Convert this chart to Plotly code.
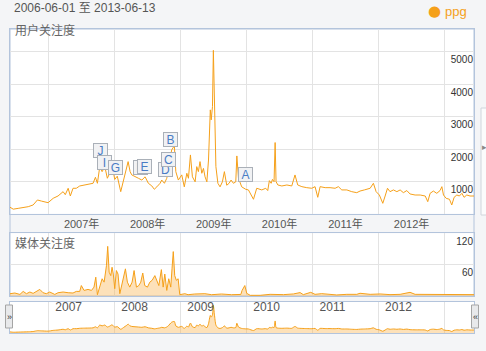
import plotly.graph_objects as go

# ---------------- data ----------------
x_start, x_end = "2006-06-01", "2013-06-13"

user_dates = [
    "2006-06-01", "2006-06-19", "2006-07-16", "2006-09-10", "2006-10-07", "2006-10-31", "2006-11-22", "2006-12-29",
    "2007-01-26", "2007-02-22", "2007-03-22", "2007-04-03", "2007-04-19", "2007-05-01", "2007-05-16", "2007-06-03",
    "2007-06-22", "2007-07-20", "2007-08-17", "2007-09-04", "2007-09-17", "2007-09-28", "2007-10-11", "2007-10-24",
    "2007-11-08", "2007-11-22", "2007-12-05", "2007-12-18", "2008-01-02", "2008-01-16", "2008-02-04", "2008-02-22",
    "2008-03-06", "2008-03-16", "2008-03-27", "2008-04-05", "2008-05-12", "2008-05-31", "2008-06-18", "2008-07-06",
    "2008-07-25", "2008-08-08", "2008-08-22", "2008-09-09", "2008-09-18", "2008-10-03", "2008-10-16", "2008-10-24",
    "2008-11-12", "2008-11-27", "2008-12-05", "2008-12-19", "2009-01-07", "2009-01-21", "2009-02-04", "2009-02-13",
    "2009-02-24", "2009-03-07", "2009-03-22", "2009-03-31", "2009-04-09", "2009-04-18", "2009-04-28", "2009-05-07",
    "2009-05-16", "2009-05-26", "2009-06-04", "2009-06-14", "2009-06-19", "2009-06-26", "2009-07-01", "2009-07-07",
    "2009-07-15", "2009-07-26", "2009-08-07", "2009-08-20", "2009-08-31", "2009-09-13", "2009-09-26", "2009-10-07",
    "2009-10-20", "2009-11-02", "2009-11-08", "2009-11-17", "2009-12-05", "2009-12-27", "2010-01-11", "2010-02-08",
    "2010-02-26", "2010-03-26", "2010-04-17", "2010-04-28", "2010-05-07", "2010-05-17", "2010-05-24", "2010-06-02",
    "2010-06-08", "2010-06-13", "2010-06-23", "2010-07-15", "2010-08-12", "2010-09-08", "2010-09-26", "2010-10-11",
    "2010-11-03", "2010-11-30", "2010-12-28", "2011-01-15", "2011-01-30", "2011-02-12", "2011-03-12", "2011-04-08",
    "2011-05-06", "2011-05-24", "2011-06-12", "2011-07-10", "2011-08-06", "2011-09-03", "2011-09-21", "2011-10-15",
    "2011-11-16", "2011-12-04", "2011-12-19", "2012-01-06", "2012-01-25", "2012-02-07", "2012-02-20", "2012-03-05",
    "2012-03-24", "2012-04-12", "2012-04-30", "2012-05-18", "2012-06-06", "2012-06-24", "2012-07-22", "2012-08-19",
    "2012-09-16", "2012-09-30", "2012-10-13", "2012-10-31", "2012-11-19", "2012-12-07", "2012-12-17", "2012-12-26",
    "2013-01-10", "2013-01-28", "2013-02-10", "2013-02-23", "2013-03-10", "2013-03-24", "2013-04-07", "2013-04-19",
    "2013-05-04", "2013-05-22", "2013-06-13",
]
user_vals = [
    200, 140, 165, 217, 270, 424, 390, 340,
    476, 548, 681, 588, 786, 548, 786, 786,
    857, 888, 908, 940, 1127, 940, 1455, 1300,
    1455, 1095, 1250, 1500, 1060, 1160, 681, 1060,
    1350, 1610, 1300, 1200, 1095, 1040, 1140, 940,
    860, 755, 830, 940, 1040, 940, 1095, 1300,
    1970, 2100, 1300, 1040, 1200, 830, 1250, 1095,
    1817, 1140, 985, 1455, 1300, 1610, 1250, 1400,
    1140, 985, 1660, 3210, 2900, 3310, 5050, 3310,
    1455, 940, 830, 985, 1300, 880, 940, 1040,
    940, 985, 1786, 1095, 830, 755, 735, 446,
    786, 735, 786, 715, 1022, 940, 1060, 990,
    2200, 990, 888, 857, 888, 857, 1198, 888,
    836, 805, 786, 836, 507, 836, 805, 805,
    786, 836, 735, 735, 681, 650, 700, 735,
    786, 940, 681, 578, 321, 547, 786, 681,
    735, 681, 735, 650, 715, 610, 578, 578,
    547, 372, 630, 700, 630, 715, 836, 578,
    475, 446, 270, 507, 578, 547, 630, 507,
    578, 547, 547,
]

media_dates = [
    "2006-06-01", "2006-06-28", "2006-07-26", "2006-08-13", "2006-08-31", "2006-09-19", "2006-10-07", "2006-10-25",
    "2006-11-13", "2006-12-01", "2006-12-19", "2007-01-07", "2007-02-04", "2007-02-22", "2007-03-22", "2007-04-19",
    "2007-05-16", "2007-06-03", "2007-06-22", "2007-07-01", "2007-07-16", "2007-08-07", "2007-08-26", "2007-09-09",
    "2007-09-19", "2007-09-28", "2007-10-11", "2007-10-24", "2007-11-04", "2007-11-17", "2007-11-24", "2007-12-02",
    "2007-12-11", "2007-12-18", "2007-12-25", "2008-01-02", "2008-01-11", "2008-01-20", "2008-01-30", "2008-02-08",
    "2008-02-17", "2008-03-01", "2008-03-12", "2008-03-25", "2008-04-07", "2008-04-18", "2008-05-01", "2008-05-14",
    "2008-05-25", "2008-06-05", "2008-06-16", "2008-07-01", "2008-07-14", "2008-07-27", "2008-08-11", "2008-08-20",
    "2008-09-02", "2008-09-16", "2008-09-26", "2008-10-05", "2008-10-16", "2008-10-27", "2008-11-07", "2008-11-14",
    "2008-11-21", "2008-11-29", "2008-12-08", "2008-12-18", "2008-12-27", "2009-01-24", "2009-02-11", "2009-03-20",
    "2009-05-15", "2009-06-21", "2009-08-15", "2009-10-09", "2009-11-30", "2009-12-07", "2009-12-22", "2010-01-02",
    "2010-01-21", "2010-03-17", "2010-05-11", "2010-07-24", "2010-09-17", "2010-10-24", "2010-11-11", "2010-12-22",
    "2011-01-15", "2011-02-21", "2011-03-30", "2011-05-15", "2011-07-10", "2011-09-03", "2011-09-21", "2011-11-16",
    "2012-01-10", "2012-03-05", "2012-04-30", "2012-06-24", "2012-07-22", "2012-08-28", "2012-10-13", "2012-11-19",
    "2013-01-13", "2013-03-10", "2013-05-04", "2013-06-13",
]
media_vals = [
    4.4, 5.7, 3, 8.8, 4.4, 7.6, 5, 8.8,
    12.6, 6.3, 4.4, 7.6, 3, 6.3, 7.6, 6.3,
    5.7, 8.8, 8.8, 20, 10.7, 12.6, 10.7, 17,
    36, 2.5, 20, 33, 26.5, 58, 95, 45.5,
    39, 55, 42, 14, 48.7, 42, 4.4, 20,
    33, 52, 26.5, 17, 26.5, 48.7, 17, 20,
    26.5, 44, 20, 17, 26.5, 30, 39, 30,
    20, 50.5, 17, 42, 10.7, 33, 17, 52,
    85, 39, 30, 33, 2.5, 4.4, 2.5, 3.8,
    4.4, 2.5, 3.8, 2.5, 3, 10.7, 20, 5,
    1.3, 1.3, 3.2, 2.6, 3.9, 6.5, 2.6, 7,
    3.2, 4.5, 3.9, 2, 3.2, 3.2, 5.2, 3.2,
    3.9, 2.6, 3.2, 7, 3.2, 3.2, 2, 3.2,
    2.6, 2.6, 2.6, 2.6,
]

event_letters = ["J", "I", "G", "H", "E", "D", "C", "B", "A"]
event_dates = ["2007-10-13", "2007-11-04", "2008-01-04", "2008-05-21", "2008-06-15",
               "2008-10-09", "2008-10-23", "2008-11-04", "2009-12-24"]
event_vals = [1941, 1585, 1415, 1415, 1446, 1368, 1663, 2297, 1198]

user_ticks = [1000, 2000, 3000, 4000, 5000]
media_ticks = [60, 120]
user_range = [0, 5710]
media_range = [0, 120]

title_text = "2006-06-01 至 2013-06-13"
series_name = "ppg"
panel1_label = "用户关注度"
panel2_label = "媒体关注度"

# ---------------- styling ----------------
W, H = 486, 351
ML, MR, MT, MB = 10, 12, 29, 18
PW, PH = W - ML - MR, H - MT - MB


def px_x(p):
    return (p - ML) / PW


def px_y(p):
    return (H - MB - p) / PH


ORANGE = "#f5a01a"
FILL = "rgba(250,180,80,0.40)"
GRID = "#e3e3e3"
FRAME = "#b3c4dc"
FONT = "Liberation Sans, Noto Sans CJK SC, sans-serif"

d1 = [px_y(213.7), 1.0]
d2 = [px_y(296.0), px_y(233.3)]
d3 = [0.0, px_y(301.7)]

fig = go.Figure()
fig.add_trace(go.Scatter(x=user_dates, y=user_vals, mode="lines",
                         line=dict(color=ORANGE, width=1), xaxis="x", yaxis="y"))
fig.add_trace(go.Scatter(x=media_dates, y=media_vals, mode="lines", fill="tozeroy",
                         fillcolor=FILL, line=dict(color=ORANGE, width=1),
                         xaxis="x2", yaxis="y2"))
fig.add_trace(go.Scatter(x=user_dates, y=user_vals, mode="lines", fill="tozeroy",
                         fillcolor=FILL, line=dict(color=ORANGE, width=1, shape="spline", smoothing=0.6),
                         xaxis="x3", yaxis="y3"))

xcommon = dict(type="date", range=[x_start, x_end], showgrid=True, gridcolor=GRID, gridwidth=1,
               ticks="", zeroline=False, showline=True, linecolor=FRAME, mirror=True,
               dtick="M12", tick0="2006-01-01")
ycommon = dict(showgrid=True, gridcolor=GRID, zeroline=False, showline=True, linecolor=FRAME,
               mirror=True, ticks="", side="right", ticklabelposition="inside",
               tickfont=dict(family=FONT, size=10, color="#333"), ticklabelshift=8)

fig.update_layout(
    width=W, height=H,
    margin=dict(l=ML, r=MR, t=MT, b=MB, pad=0),
    paper_bgcolor="#f4f5f7", plot_bgcolor="#ffffff",
    showlegend=False, hovermode=False,
    font=dict(family=FONT, color="#555"),
    xaxis=dict(xcommon, anchor="y", domain=[0, 1], ticklabelmode="period", tickformat="%Y年",
               tickfont=dict(family=FONT, size=11, color="#555")),
    xaxis2=dict(xcommon, anchor="y2", domain=[0, 1], matches="x", showticklabels=False),
    xaxis3=dict(xcommon, anchor="y3", domain=[0, 1], matches="x", side="top",
                ticklabelposition="inside", tickformat="%Y", ticklabelshift=20,
                tickfont=dict(family=FONT, size=12, color="#555")),
    yaxis=dict(ycommon, anchor="x", domain=d1, range=user_range, tickvals=user_ticks),
    yaxis2=dict(ycommon, anchor="x2", domain=d2, range=media_range, tickvals=media_ticks),
    yaxis3=dict(anchor="x3", domain=d3, range=user_range, showgrid=False, zeroline=False,
                showticklabels=False, showline=True, linecolor=FRAME, mirror=True, ticks=""),
)

# event markers
for letter, d, v in zip(event_letters, event_dates, event_vals):
    fig.add_annotation(x=d, y=v, xref="x", yref="y", text=letter, showarrow=False,
                       xanchor="center", yanchor="middle", width=11, height=11,
                       bgcolor="#f1f2f4", bordercolor="#aab0b8", borderwidth=1, borderpad=1,
                       font=dict(family=FONT, size=12, color="#4a7cc4"))

# texts
fig.add_annotation(x=px_x(12), y=px_y(8), xref="paper", yref="paper", text=title_text,
                   showarrow=False, xanchor="left", yanchor="middle",
                   font=dict(family=FONT, size=12, color="#555"))
fig.add_annotation(x=px_x(443), y=px_y(11), xref="paper", yref="paper", text="●",
                   showarrow=False, xanchor="right", yanchor="middle",
                   font=dict(family="DejaVu Sans", size=15, color=ORANGE))
fig.add_annotation(x=px_x(469), y=px_y(11), xref="paper", yref="paper", text=series_name,
                   showarrow=False, xanchor="right", yanchor="middle",
                   font=dict(family=FONT, size=13, color=ORANGE))
fig.add_annotation(x=px_x(13), y=px_y(30.5), xref="paper", yref="paper", text=panel1_label,
                   showarrow=False, xanchor="left", yanchor="middle",
                   font=dict(family=FONT, size=12, color="#666"))
fig.add_annotation(x=px_x(13), y=px_y(243), xref="paper", yref="paper", text=panel2_label,
                   showarrow=False, xanchor="left", yanchor="middle",
                   font=dict(family=FONT, size=12, color="#666"))

# outer frame around upper panels
fig.add_shape(type="rect", xref="paper", yref="paper", x0=0, x1=1, y0=d2[0], y1=1,
              line=dict(color=FRAME, width=1), fillcolor="rgba(0,0,0,0)", layer="below")

# navigator handles
for x0, x1, sym in [(5.5, 12.5, "»"), (471.5, 478.5, "«")]:
    fig.add_shape(type="rect", xref="paper", yref="paper", x0=px_x(x0), x1=px_x(x1),
                  y0=px_y(328), y1=px_y(305), line=dict(color="#a5a5a5", width=1),
                  fillcolor="#e8e9eb", layer="above")
    fig.add_annotation(x=px_x((x0 + x1) / 2), y=px_y(316.5), xref="paper", yref="paper",
                       text=sym, showarrow=False, xanchor="center", yanchor="middle",
                       font=dict(family=FONT, size=9, color="#333"))

# side widget at right edge
fig.add_shape(type="rect", xref="paper", yref="paper", x0=px_x(481), x1=px_x(492),
              y0=px_y(215), y1=px_y(108), line=dict(color="#d0d5dc", width=1),
              fillcolor="#fbfbfc", layer="above")
fig.add_annotation(x=px_x(484), y=px_y(147), xref="paper", yref="paper", text="▸",
                   showarrow=False, xanchor="center", yanchor="middle",
                   font=dict(family=FONT, size=9, color="#888"))

fig.write_html("out.html")
